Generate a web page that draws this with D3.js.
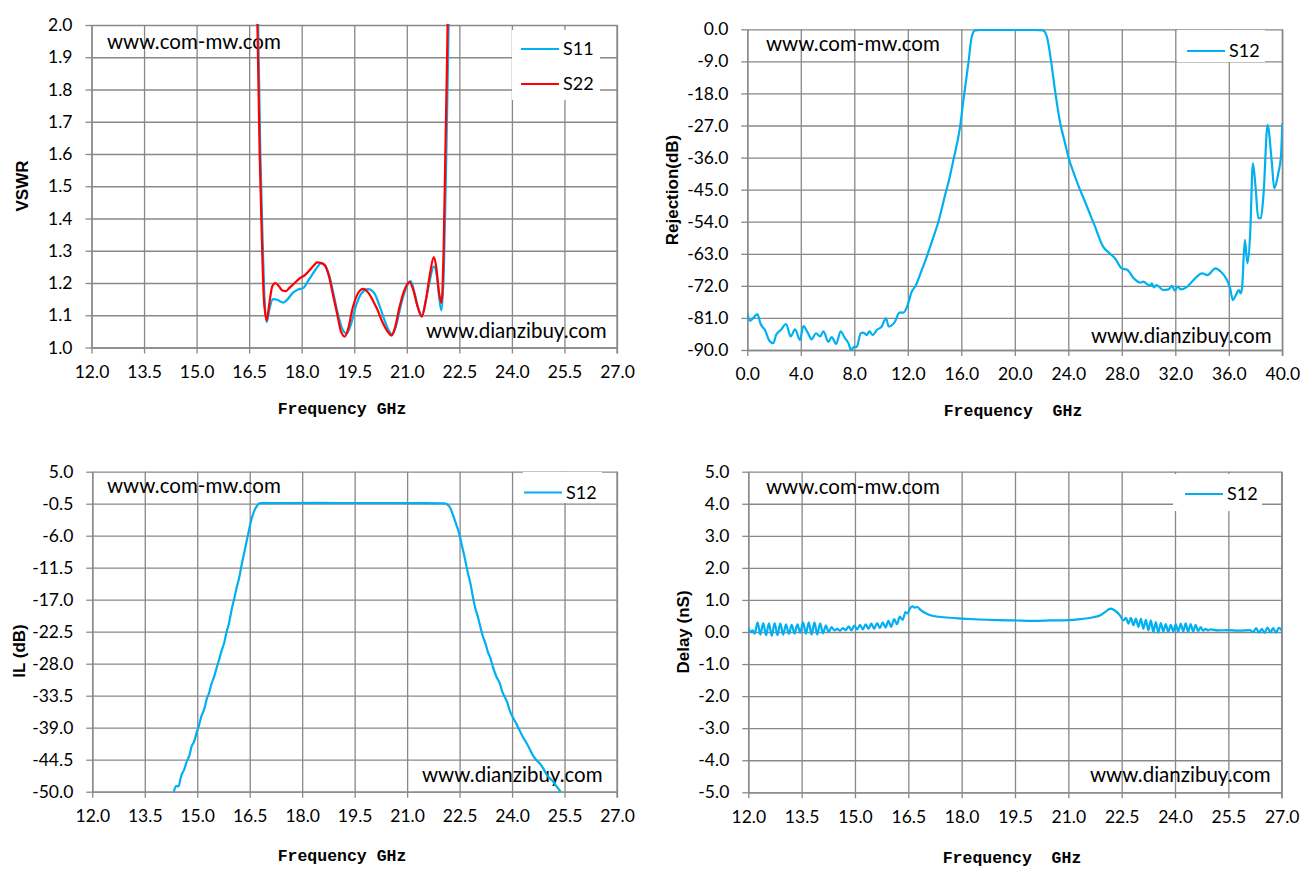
<!DOCTYPE html>
<html><head><meta charset="utf-8">
<script src="https://cdn.jsdelivr.net/npm/d3@7"></script>
<style>
body{margin:0;background:#fff;}
svg{display:block;}
</style></head>
<body>
<svg id="chart" width="1310" height="880"></svg>
<script>
// ---------- DATA ----------
// Top-left: VSWR
const vswrS11Freq = [16.74,16.82,16.88,16.94,17.00,17.08,17.18,17.30,17.47,17.60,17.75,17.90,18.05,18.20,18.32,18.45,18.56,18.66,18.78,18.90,19.02,19.15,19.28,19.40,19.55,19.72,19.90,20.08,20.22,20.38,20.50,20.58,20.70,20.85,21.00,21.11,21.22,21.33,21.43,21.55,21.66,21.77,21.86,21.93,21.99,22.06,22.12,22.17,22.21];
const vswrS11 = [2.10,1.60,1.35,1.15,1.079,1.12,1.15,1.148,1.139,1.15,1.17,1.18,1.185,1.21,1.229,1.25,1.262,1.255,1.225,1.17,1.11,1.06,1.043,1.07,1.13,1.17,1.181,1.167,1.13,1.08,1.05,1.04,1.07,1.14,1.19,1.206,1.17,1.12,1.10,1.15,1.21,1.252,1.22,1.15,1.115,1.25,1.55,1.85,2.10];
const vswrS22Freq = [16.72,16.80,16.86,16.92,17.00,17.08,17.16,17.25,17.35,17.45,17.55,17.65,17.80,17.95,18.10,18.23,18.35,18.44,18.55,18.66,18.78,18.90,19.02,19.12,19.23,19.33,19.45,19.57,19.75,19.90,20.03,20.15,20.30,20.45,20.56,20.66,20.78,20.92,21.08,21.18,21.30,21.43,21.55,21.65,21.77,21.84,21.92,21.99,22.05,22.10,22.15,22.18];
const vswrS22 = [2.10,1.60,1.35,1.15,1.085,1.14,1.19,1.20,1.19,1.177,1.175,1.185,1.20,1.215,1.225,1.24,1.255,1.264,1.262,1.255,1.22,1.16,1.10,1.05,1.034,1.06,1.12,1.16,1.182,1.17,1.146,1.12,1.08,1.05,1.037,1.06,1.12,1.175,1.203,1.18,1.13,1.096,1.15,1.22,1.28,1.25,1.17,1.138,1.30,1.60,1.90,2.10];
const vswrXTicks = [12.0,13.5,15.0,16.5,18.0,19.5,21.0,22.5,24.0,25.5,27.0];
const vswrYTicks = [1.0,1.1,1.2,1.3,1.4,1.5,1.6,1.7,1.8,1.9,2.0];

// Top-right: Rejection
const rejFreq = [0,0.2,0.45,0.75,1.0,1.32,1.65,1.95,2.15,2.5,2.9,3.24,3.57,3.94,4.19,4.5,4.81,5.14,5.44,5.69,6.06,6.31,6.64,6.98,7.3,7.55,7.76,7.98,8.18,8.48,8.68,8.93,9.13,9.38,9.68,10.05,10.37,10.57,11.05,11.37,11.67,11.97,12.3,12.55,13.0,13.42,13.9,14.29,14.79,15.1,15.41,15.91,16.16,16.53,16.78,17.03,17.4,18.5,20.0,21.5,22.1,22.4,22.7,23.0,23.4,23.7,24.0,24.6,25.4,26.0,26.6,27.1,27.5,28.0,28.4,28.9,29.4,29.6,30.1,30.25,30.4,30.6,31.1,31.5,31.75,31.95,32.2,32.4,32.9,33.4,34.0,34.4,35.0,35.4,35.8,36.1,36.3,36.5,36.75,36.9,37.0,37.2,37.4,37.6,37.8,38.0,38.2,38.4,38.6,38.9,39.2,39.4,39.7,39.9,40.0];
const rejS12 = [-79.7,-81.8,-81.0,-79.9,-82.7,-84.4,-87.4,-88.1,-85.8,-84.4,-82.7,-86.2,-84.2,-87.2,-83.3,-85.0,-87.0,-85.3,-86.2,-84.8,-87.7,-86.4,-88.3,-84.8,-86.7,-88.0,-90.0,-89.1,-89.1,-85.3,-85.1,-85.8,-84.8,-85.8,-84.4,-83.4,-81.1,-83.4,-82.0,-79.5,-79.5,-77.6,-73.6,-72.2,-68.0,-63.8,-58.5,-54.0,-46.5,-42.0,-36.7,-27.3,-19.8,-9.5,-2.1,-0.3,-0.2,-0.2,-0.2,-0.2,-0.3,-2.1,-8.6,-17.0,-26.4,-31.1,-35.7,-42.3,-49.8,-55.4,-61.0,-62.9,-64.3,-67.1,-67.5,-69.9,-71.1,-70.8,-72.0,-71.3,-72.4,-71.8,-73.2,-73.0,-72.0,-73.3,-72.2,-73.0,-72.2,-70.2,-68.5,-69.0,-67.1,-68.0,-69.9,-72.7,-76.0,-74.8,-73.2,-74.1,-72.2,-59.1,-65.7,-57.3,-37.6,-44.2,-53.0,-53.0,-46.1,-26.8,-36.7,-44.6,-40.4,-35.7,-26.4];
const rejXTicks = [0,4,8,12,16,20,24,28,32,36,40];
const rejYTicks = [0,-9,-18,-27,-36,-45,-54,-63,-72,-81,-90];

// Bottom-left: Insertion loss
const ilFreq = [14.33,14.40,14.46,14.55,14.62,14.70,14.77,14.84,14.91,14.98,15.05,15.12,15.20,15.27,15.34,15.41,15.48,15.55,15.62,15.70,15.77,15.84,15.91,15.98,16.05,16.12,16.20,16.27,16.34,16.41,16.47,16.52,16.58,16.64,16.72,16.79,17.5,18.5,19.5,20.5,21.5,22.07,22.21,22.36,22.50,22.57,22.64,22.74,22.81,22.88,22.95,23.02,23.10,23.17,23.24,23.31,23.38,23.45,23.55,23.65,23.72,23.79,23.86,23.93,24.02,24.12,24.21,24.31,24.40,24.50,24.60,24.70,24.80,24.89,24.98,25.08,25.18,25.27,25.39];
const ilS12 = [-50.0,-49.0,-49.1,-47.1,-46.3,-44.8,-43.9,-42.2,-41.4,-39.9,-38.6,-37.0,-35.8,-34.1,-33.0,-31.4,-30.3,-28.8,-27.4,-25.7,-24.4,-22.5,-21.0,-18.8,-17.0,-15.1,-13.2,-11.0,-9.0,-7.0,-5.3,-3.9,-2.6,-1.6,-0.8,-0.4,-0.38,-0.37,-0.38,-0.38,-0.4,-0.45,-1.0,-3.3,-5.9,-7.8,-9.6,-12.5,-14.2,-16.5,-18.5,-19.9,-21.8,-23.4,-24.5,-26.0,-27.0,-28.5,-30.2,-31.4,-32.8,-33.7,-34.6,-36.0,-37.2,-38.3,-39.4,-40.6,-41.5,-42.6,-43.8,-44.6,-45.2,-46.0,-47.0,-47.7,-48.3,-49.1,-50.0];
const ilXTicks = [12.0,13.5,15.0,16.5,18.0,19.5,21.0,22.5,24.0,25.5,27.0];
const ilYTicks = [5.0,-0.5,-6.0,-11.5,-17.0,-22.5,-28.0,-33.5,-39.0,-44.5,-50.0];

// Bottom-right: Group delay
const delayFreq = [12.00,12.05,12.12,12.18,12.26,12.34,12.42,12.50,12.58,12.66,12.74,12.82,12.90,12.98,13.06,13.14,13.22,13.30,13.38,13.46,13.54,13.62,13.70,13.78,13.86,13.94,14.02,14.10,14.18,14.26,14.34,14.42,14.50,14.58,14.66,14.74,14.82,14.90,14.98,15.06,15.14,15.22,15.30,15.38,15.46,15.54,15.62,15.70,15.78,15.86,15.94,16.02,16.10,16.18,16.26,16.34,16.42,16.48,16.55,16.62,16.68,16.75,16.85,17.0,17.2,17.5,18.0,18.5,19.0,19.5,20.0,20.5,21.0,21.33,21.7,21.9,22.03,22.19,22.31,22.45,22.55,22.62,22.69,22.76,22.83,22.90,22.97,23.04,23.11,23.18,23.25,23.32,23.39,23.46,23.53,23.60,23.67,23.74,23.81,23.88,23.95,24.02,24.09,24.16,24.23,24.30,24.37,24.44,24.51,24.58,24.65,24.72,24.79,24.86,24.93,25.0,25.2,25.5,25.8,26.1,26.2,26.28,26.36,26.44,26.52,26.60,26.68,26.76,26.84,26.92,27.0];
const delayS12 = [0.15,0.00,0.05,-0.05,0.30,-0.08,0.28,-0.10,0.27,-0.12,0.28,-0.10,0.27,-0.08,0.24,-0.06,0.22,-0.05,0.24,-0.02,0.30,-0.05,0.30,-0.08,0.30,-0.08,0.27,-0.04,0.20,0.00,0.15,0.05,0.10,0.04,0.12,0.06,0.18,0.05,0.20,0.08,0.22,0.08,0.24,0.10,0.26,0.10,0.28,0.12,0.30,0.14,0.35,0.16,0.40,0.24,0.48,0.38,0.62,0.58,0.74,0.80,0.76,0.78,0.68,0.58,0.50,0.46,0.42,0.39,0.37,0.36,0.35,0.36,0.37,0.40,0.46,0.52,0.62,0.73,0.67,0.52,0.36,0.44,0.26,0.44,0.21,0.42,0.16,0.41,0.10,0.38,0.05,0.36,0.00,0.31,-0.02,0.28,0.02,0.25,0.00,0.22,0.02,0.25,0.01,0.26,0.02,0.27,0.00,0.25,0.02,0.22,0.03,0.15,0.04,0.10,0.05,0.08,0.05,0.06,0.04,0.06,0.00,0.12,-0.02,0.10,-0.03,0.14,-0.01,0.12,-0.02,0.13,0.05];
const delayXTicks = [12.0,13.5,15.0,16.5,18.0,19.5,21.0,22.5,24.0,25.5,27.0];
const delayYTicks = [5,4,3,2,1,0,-1,-2,-3,-4,-5];

// ---------- DRAWING ----------
const svg = d3.select("#chart");
const GRID = "#888888";
const BLUE = "#00B0F0";
const RED = "#FF0000";
const TICKFONT = "Lato, 'Open Sans', sans-serif";
const fmt = d3.formatLocale({decimal: ".", thousands: ",", grouping: [3], currency: ["", ""], minus: "-"}).format(".1f");

function panel(cfg, idx){
  const g = svg.append("g");
  const x = d3.scaleLinear().domain(cfg.xDomain).range([cfg.box.l, cfg.box.r]);
  const y = d3.scaleLinear().domain(cfg.yDomain).range([cfg.box.b, cfg.box.t]);
  const w = cfg.box.r - cfg.box.l, h = cfg.box.b - cfg.box.t;

  // grid (via axes)
  const gx = g.append("g").attr("transform", `translate(0,${cfg.box.b})`)
    .call(d3.axisBottom(x).tickValues(cfg.xTicks).tickSize(-h).tickFormat(""));
  const gy = g.append("g").attr("transform", `translate(${cfg.box.l},0)`)
    .call(d3.axisLeft(y).tickValues(cfg.yTicks).tickSize(-w).tickFormat(""));
  [gx, gy].forEach(a => { a.selectAll("line").attr("stroke", GRID).attr("stroke-width", 1.3); a.select(".domain").remove(); });

  // outer axes with labels
  const ax = g.append("g").attr("transform", `translate(0,${cfg.box.b})`)
    .call(d3.axisBottom(x).tickValues(cfg.xTicks).tickSize(6).tickSizeOuter(0).tickPadding(12).tickFormat(fmt));
  const ay = g.append("g").attr("transform", `translate(${cfg.box.l},0)`)
    .call(d3.axisLeft(y).tickValues(cfg.yTicks).tickSize(6).tickSizeOuter(0).tickPadding(13).tickFormat(fmt));
  [ax, ay].forEach(a => {
    a.selectAll("line").attr("stroke", GRID).attr("stroke-width", 1.3);
    a.select(".domain").attr("stroke", GRID).attr("stroke-width", 1.3);
    a.selectAll("text").attr("font-family", TICKFONT).attr("font-size", 17.5).attr("fill", "#000");
  });
  // right border line
  g.append("line").attr("x1", cfg.box.r).attr("x2", cfg.box.r).attr("y1", cfg.box.t).attr("y2", cfg.box.b+6)
    .attr("stroke", GRID).attr("stroke-width", 1.3);

  // legend background
  const L = cfg.legend;
  g.append("rect").attr("x", L.x).attr("y", L.y).attr("width", L.w).attr("height", L.h).attr("fill", "#fff");

  // clip
  const cid = "clip" + idx;
  svg.append("clipPath").attr("id", cid).append("rect")
    .attr("x", cfg.box.l).attr("y", cfg.box.t - 1).attr("width", w).attr("height", h + 2);

  // watermarks
  g.append("text").attr("x", cfg.wm1.x).attr("y", cfg.wm1.y).text("www.com-mw.com")
    .attr("font-family", TICKFONT).attr("font-size", 20.5).attr("fill", "#000");
  g.append("text").attr("x", cfg.wm2.x).attr("y", cfg.wm2.y).text("www.dianzibuy.com")
    .attr("font-family", TICKFONT).attr("font-size", 20.5).attr("fill", "#000");

  // series
  const line = d3.line().x(d => x(d[0])).y(d => y(d[1])).curve(d3.curveMonotoneX);
  cfg.series.forEach(s => {
    const pts = s.x.map((v, i) => [v, s.y[i]]);
    g.append("path").datum(pts).attr("d", line).attr("fill", "none")
      .attr("stroke", s.color).attr("stroke-width", 2.2).attr("stroke-linejoin", "round")
      .attr("clip-path", `url(#${cid})`);
  });

  // legend entries
  cfg.series.forEach((s, i) => {
    const yy = L.ly + i * L.dy;
    g.append("line").attr("x1", L.lx).attr("x2", L.lx + 38).attr("y1", yy).attr("y2", yy)
      .attr("stroke", s.color).attr("stroke-width", 2.2);
    g.append("text").attr("x", L.lx + 42).attr("y", yy).attr("dy", "0.35em").text(s.name)
      .attr("font-family", TICKFONT).attr("font-size", 18).attr("fill", "#000");
  });

  // axis titles
  g.append("text").attr("transform", `translate(${cfg.ytitle.x},${cfg.ytitle.y}) rotate(-90)`)
    .attr("text-anchor", "middle").attr("dy", "0.35em").text(cfg.ytitle.text)
    .attr("font-family", "'Liberation Sans', Arial, sans-serif").attr("font-weight", "bold").attr("font-size", 17).attr("fill", "#000");
  g.append("text").attr("x", cfg.xtitle.x).attr("y", cfg.xtitle.y).attr("text-anchor", "middle")
    .attr("dy", "0.35em").style("white-space", "pre").text(cfg.xtitle.text)
    .attr("font-family", "'Liberation Mono', 'DejaVu Sans Mono', monospace").attr("font-weight", "bold")
    .attr("font-size", 16.5).attr("fill", "#000");
}

panel({
  box: {l: 91.5, r: 617, t: 25, b: 347.5},
  xDomain: [12, 27], yDomain: [1.0, 2.0], xTicks: vswrXTicks, yTicks: vswrYTicks,
  series: [{name: "S11", x: vswrS11Freq, y: vswrS11, color: BLUE},
           {name: "S22", x: vswrS22Freq, y: vswrS22, color: RED}],
  legend: {x: 512, y: 30, w: 88, h: 70, lx: 521, ly: 49, dy: 35},
  wm1: {x: 107, y: 49}, wm2: {x: 426, y: 338},
  ytitle: {x: 22, y: 186, text: "VSWR"},
  xtitle: {x: 342, y: 408, text: "Frequency GHz"}
}, 0);

panel({
  box: {l: 747.3, r: 1282.3, t: 29.3, b: 350},
  xDomain: [0, 40], yDomain: [-90, 0], xTicks: rejXTicks, yTicks: rejYTicks,
  series: [{name: "S12", x: rejFreq, y: rejS12, color: BLUE}],
  legend: {x: 1177, y: 30, w: 88, h: 32, lx: 1187, ly: 51, dy: 35},
  wm1: {x: 766, y: 51}, wm2: {x: 1091, y: 343},
  ytitle: {x: 672, y: 190, text: "Rejection(dB)"},
  xtitle: {x: 1013, y: 410, text: "Frequency  GHz"}
}, 1);

panel({
  box: {l: 92.3, r: 617, t: 471.7, b: 791.7},
  xDomain: [12, 27], yDomain: [-50, 5], xTicks: ilXTicks, yTicks: ilYTicks,
  series: [{name: "S12", x: ilFreq, y: ilS12, color: BLUE}],
  legend: {x: 523, y: 472, w: 79, h: 31, lx: 524, ly: 492.5, dy: 35},
  wm1: {x: 107, y: 493}, wm2: {x: 422, y: 782},
  ytitle: {x: 19, y: 651, text: "IL (dB)"},
  xtitle: {x: 342, y: 855, text: "Frequency GHz"}
}, 2);

panel({
  box: {l: 748.3, r: 1281.7, t: 471.7, b: 792.3},
  xDomain: [12, 27], yDomain: [-5, 5], xTicks: delayXTicks, yTicks: delayYTicks,
  series: [{name: "S12", x: delayFreq, y: delayS12, color: BLUE}],
  legend: {x: 1173, y: 474, w: 89, h: 37, lx: 1185, ly: 494, dy: 35},
  wm1: {x: 766, y: 494}, wm2: {x: 1090, y: 782},
  ytitle: {x: 683, y: 632, text: "Delay (nS)"},
  xtitle: {x: 1012, y: 857, text: "Frequency  GHz"}
}, 3);
</script>
</body></html>
